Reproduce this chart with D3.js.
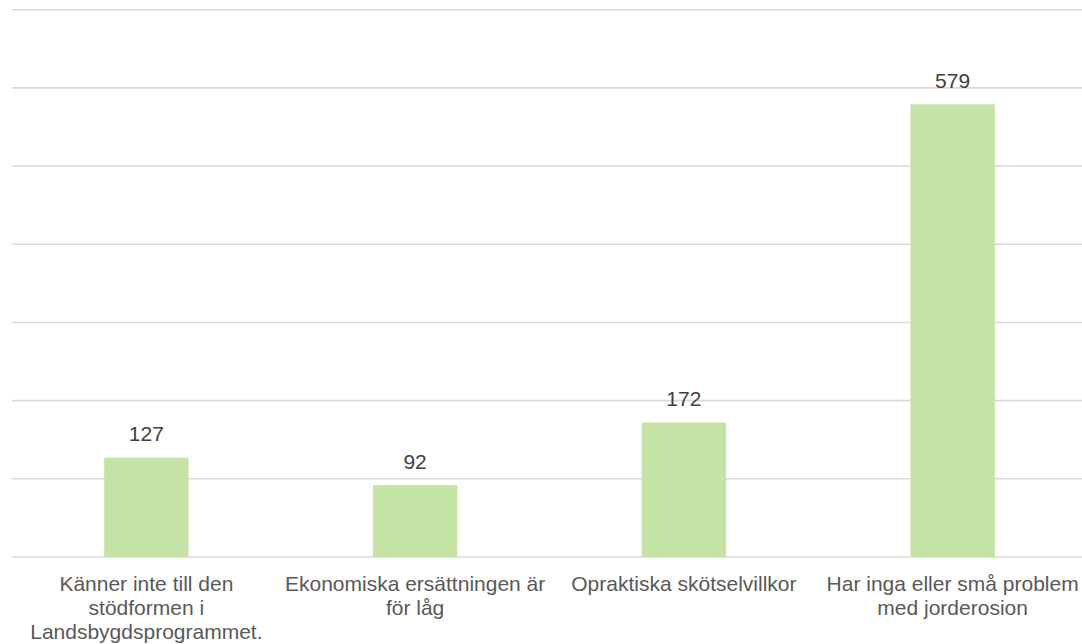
<!DOCTYPE html>
<html>
<head>
<meta charset="utf-8">
<script src="https://cdn.jsdelivr.net/npm/d3@7"></script>
<style>
  html, body { margin: 0; padding: 0; background: #fff; }
  svg { display: block; }
  text { font-family: "Liberation Sans", Arial, sans-serif; }
</style>
</head>
<body>
<svg id="chart" width="1082" height="644"></svg>
<script>
// Reasons given (counts of respondents)
const categories = [
  "Känner inte till den stödformen i Landsbygdsprogrammet.",
  "Ekonomiska ersättningen är för låg",
  "Opraktiska skötselvillkor",
  "Har inga eller små problem med jorderosion"
];
const counts = [127, 92, 172, 579];
const yTicks = [0, 100, 200, 300, 400, 500, 600, 700];

const W = 1082, H = 644;
const plot = { left: 12, right: 1087, top: 9.7, bottom: 557 };

const svg = d3.select("#chart");

const x = d3.scaleBand()
  .domain(categories)
  .range([plot.left, plot.right])
  .padding(0);

const y = d3.scaleLinear()
  .domain([0, 700])
  .range([plot.bottom, plot.top]);

const barW = x.bandwidth() * 0.314;

// Horizontal gridlines
svg.append("g")
  .selectAll("line")
  .data(yTicks)
  .join("line")
  .attr("x1", plot.left)
  .attr("x2", W)
  .attr("y1", d => y(d))
  .attr("y2", d => y(d))
  .attr("stroke", "#d9d9d9")
  .attr("stroke-width", 1.6);

// Bars
svg.append("g")
  .selectAll("rect")
  .data(categories)
  .join("rect")
  .attr("x", d => x(d) + (x.bandwidth() - barW) / 2)
  .attr("width", barW)
  .attr("y", (d, i) => y(counts[i]))
  .attr("height", (d, i) => y(0) - y(counts[i]))
  .attr("fill", "#c5e3a4");

// Value labels above bars
svg.append("g")
  .selectAll("text")
  .data(categories)
  .join("text")
  .attr("x", d => x(d) + x.bandwidth() / 2)
  .attr("y", (d, i) => y(counts[i]) - 16.5)
  .attr("text-anchor", "middle")
  .attr("font-size", 21)
  .attr("fill", "#404040")
  .text((d, i) => counts[i]);

// Category labels, word-wrapped to the band width
const labelG = svg.append("g");
const maxW = x.step() - 2;
categories.forEach(cat => {
  const t = labelG.append("text")
    .attr("text-anchor", "middle")
    .attr("font-size", 21)
    .attr("fill", "#595959");
  const cx = x(cat) + x.bandwidth() / 2;
  const words = cat.split(" ");
  let lines = [];
  let cur = [];
  const probe = t.append("tspan");
  words.forEach(w => {
    const trial = cur.concat([w]).join(" ");
    probe.text(trial);
    if (probe.node().getComputedTextLength() > maxW && cur.length) {
      lines.push(cur.join(" "));
      cur = [w];
    } else {
      cur.push(w);
    }
  });
  if (cur.length) lines.push(cur.join(" "));
  probe.remove();
  lines.forEach((ln, i) => {
    t.append("tspan")
      .attr("x", cx)
      .attr("y", plot.bottom + 34 + i * 23.8)
      .text(ln);
  });
});
</script>
</body>
</html>
